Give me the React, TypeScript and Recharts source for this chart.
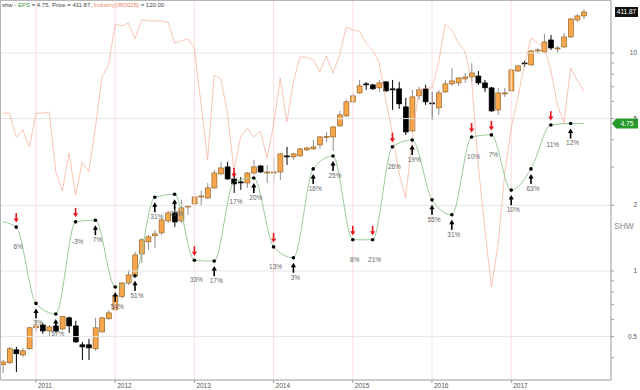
import React from 'react';
import { ComposedChart, Bar, Line, XAxis, YAxis, ReferenceLine } from 'recharts';

// monthly candles, Aug 2010 .. Dec 2017
const firstYear = 2010;
const firstMonth = 8;
const monthCount = 89;
const yearLabels = ['2011', '2012', '2013', '2014', '2015', '2016', '2017'];

const priceOpen = [
  67.7, 68.4, 73.1, 71.2, 73.5, 81.8, 83.0, 80.5, 82.6, 81.3, 86.1, 82.6, 75.0, 75.0, 73.5, 80.1, 85.7, 89.7, 96.0, 102.9,
  106.7, 119.4, 127.0, 131.0, 133.0, 141.4, 147.3, 141.4, 151.8, 154.2, 159.8, 159.0, 167.4, 179.8, 186.4, 175.2, 172.6, 171.7, 180.7, 187.3,
  180.7, 180.7, 181.6, 197.2, 196.2, 197.2, 203.3, 204.4, 208.6, 217.3, 217.3, 229.9, 242.0, 260.0, 272.2, 285.1, 283.6, 279.3, 288.0, 277.9,
  277.9, 253.4, 224.1, 268.1, 277.9, 258.6, 252.1, 273.6, 285.1, 286.5, 292.4, 295.3, 296.8, 286.5, 279.3, 249.5, 270.8, 275.0, 304.5, 317.3,
  314.1, 337.4, 335.7, 356.9, 340.9, 344.4, 362.5, 395.4, 403.6,
];
const priceHigh = [
  69.4, 74.2, 74.2, 73.8, 82.2, 85.2, 83.9, 83.0, 83.9, 87.0, 86.6, 84.8, 76.1, 77.3, 86.1, 86.6, 89.7, 97.5, 103.4, 110.0,
  120.7, 129.6, 131.6, 135.0, 143.6, 148.8, 155.8, 157.4, 153.4, 164.8, 164.8, 171.7, 183.5, 191.2, 191.2, 181.6, 177.0, 181.6, 193.2, 188.3,
  188.3, 196.2, 200.2, 206.5, 200.2, 205.4, 206.5, 214.0, 218.4, 222.9, 229.9, 248.2, 262.6, 272.2, 290.9, 288.0, 285.1, 290.9, 289.4, 290.9,
  288.0, 265.3, 276.4, 280.8, 283.6, 273.6, 276.4, 290.9, 309.3, 295.3, 301.4, 317.3, 304.5, 290.9, 280.8, 279.3, 279.3, 309.3, 314.1, 320.6,
  339.1, 342.6, 368.1, 366.2, 346.1, 370.0, 399.4, 407.7, 417.5,
];
const priceLow = [
  64.9, 68.0, 65.2, 70.5, 73.1, 80.1, 79.3, 78.1, 79.7, 80.9, 79.7, 75.7, 69.4, 69.4, 72.7, 79.9, 85.2, 89.2, 95.0, 101.8,
  106.1, 114.0, 121.9, 123.2, 131.6, 139.9, 137.1, 139.9, 145.8, 153.4, 152.6, 158.2, 166.5, 178.9, 174.4, 163.1, 165.7, 167.4, 178.9, 180.7,
  171.7, 172.6, 174.4, 188.3, 193.2, 196.2, 202.2, 203.3, 204.4, 211.8, 202.2, 228.7, 240.7, 258.6, 270.8, 276.4, 276.4, 273.6, 273.6, 249.5,
  250.8, 219.5, 222.9, 262.6, 256.0, 237.0, 243.2, 272.2, 282.2, 282.2, 286.5, 288.0, 283.6, 273.6, 247.0, 243.2, 266.7, 273.6, 302.9, 310.9,
  312.5, 332.3, 334.0, 339.1, 334.0, 342.6, 360.6, 391.4, 397.4,
];
const priceClose = [
  68.7, 73.5, 71.6, 72.7, 81.8, 82.6, 80.5, 82.2, 80.5, 86.6, 82.6, 76.1, 74.2, 73.8, 81.8, 86.1, 88.3, 96.5, 102.9, 107.2,
  118.8, 128.3, 130.3, 132.3, 142.1, 147.3, 140.6, 151.1, 152.6, 159.8, 160.6, 167.4, 180.7, 185.4, 175.2, 170.8, 171.7, 180.7, 186.4, 181.6,
  181.6, 181.6, 199.2, 196.2, 199.2, 204.4, 205.4, 206.5, 217.3, 217.8, 228.7, 243.2, 260.0, 268.1, 282.2, 283.6, 277.9, 286.5, 275.0, 276.4,
  257.3, 222.9, 266.7, 276.4, 260.0, 257.3, 272.2, 285.1, 289.4, 293.8, 295.3, 301.4, 286.5, 279.3, 248.2, 272.2, 272.2, 306.1, 312.5, 315.7,
  337.4, 339.1, 353.3, 342.6, 342.6, 362.5, 397.4, 403.6, 411.87,
];
const industryLine = [
  111.0, 111.0, 101.0, 104.0, 96.9, 111.0, 111.0, 111.4, 86.5, 78.6, 94.4, 76.9, 90.6, 86.5, 104.8, 126.0, 131.0, 148.0, 147.2, 148.4,
  141.8, 149.7, 149.3, 149.3, 149.3, 148.8, 140.1, 141.0, 141.8, 138.0, 114.8, 91.5, 126.8, 125.2, 111.0, 87.3, 101.0, 104.8, 101.0, 103.5,
  92.3, 106.0, 125.6, 107.3, 123.9, 134.3, 134.3, 133.1, 128.1, 134.7, 127.6, 135.1, 146.8, 145.5, 145.1, 140.1, 137.2, 131.8, 116.4, 102.7,
  86.1, 75.7, 99.8, 120.6, 121.4, 121.4, 131.8, 148.0, 145.5, 140.1, 136.4, 124.7, 89.4, 63.2, 38.7, 56.1, 85.2, 104.8, 117.3, 131.0,
  142.2, 140.1, 138.0, 128.9, 114.3, 106.9, 129.7, 124.7, 120.0,
];

// quarterly EPS points
const epsMonths = [
  '2010-08', '2010-10',
  '2011-01', '2011-04', '2011-07', '2011-10',
  '2012-01', '2012-04', '2012-07', '2012-10',
  '2013-01', '2013-04', '2013-07', '2013-10',
  '2014-01', '2014-04', '2014-07', '2014-10',
  '2015-01', '2015-04', '2015-07', '2015-10',
  '2016-01', '2016-04', '2016-07', '2016-10',
  '2017-01', '2017-04', '2017-07', '2017-10', '2017-12',
];
const epsValues = [
  1.68, 1.59, 0.71, 0.635, 1.68, 1.71, 0.845, 0.95, 2.18, 2.25, 1.12, 1.11, 2.56, 2.67, 1.29, 1.15,
  2.94, 3.37, 1.39, 1.39, 3.71, 3.99, 2.12, 1.81, 4.12, 4.21, 2.35, 2.94, 4.67, 4.75, 4.75,
];
const epsChange = [
  null, '6%', '3%', '57%', '-3%', '7%', '54%', '51%', '31%', '27%', '33%', '17%', '17%', '20%', '13%', '3%',
  '16%', '25%', '8%', '21%', '26%', '19%', '55%', '31%', '10%', '7%', '10%', '63%', '11%', '12%', null,
];
const epsArrow = [
  null, 'down', 'up', 'up', 'down', 'up', 'up', 'up', 'up', 'up', 'down', 'up', 'down', 'up', 'down', 'up',
  'up', 'up', 'down', 'down', 'down', 'up', 'up', 'up', 'down', 'down', 'up', 'up', 'down', 'up', null,
];

const epsTicks = [0.4, 0.5, 0.6, 0.7, 0.8, 0.9, 1, 2, 3, 4, 5, 6, 7, 8, 9, 10];
const epsTickLabels = [0.5, 1, 2, 5, 10];

const months = Array.from({ length: monthCount }, (_, k) => {
  const m = firstMonth - 1 + k;
  return `${firstYear + Math.floor(m / 12)}-${String((m % 12) + 1).padStart(2, '0')}`;
});

const rows = months.map((month, i) => {
  const e = epsMonths.indexOf(month);
  return {
    i,
    month,
    open: priceOpen[i],
    high: priceHigh[i],
    low: priceLow[i],
    close: priceClose[i],
    range: [priceLow[i], priceHigh[i]],
    industry: industryLine[i],
    eps: e >= 0 ? epsValues[e] : null,
    change: e >= 0 ? epsChange[e] : null,
    arrow: e >= 0 ? epsArrow[e] : null,
  };
});

const yearTicks = yearLabels.map((y) => months.indexOf(`${y}-01`));

const FONT = '"Liberation Sans", Arial, sans-serif';

const Candle = (props: any) => {
  const { x, y, width, height, payload } = props;
  if (x == null || !payload) return <g />;
  const { open, close, high, low } = payload;
  const cx = x + width / 2;
  const lh = Math.log(high);
  const ll = Math.log(low);
  const at = (v: number) => y + (height * (lh - Math.log(v))) / (lh - ll || 1);
  const up = close >= open;
  const top = at(Math.max(open, close));
  const bot = at(Math.min(open, close));
  return (
    <g>
      <line x1={cx} x2={cx} y1={y} y2={y + height} stroke={up ? '#8e8e8e' : '#000'} strokeWidth={1} />
      <rect
        x={cx - 2.5}
        y={top}
        width={5}
        height={Math.max(1, bot - top)}
        fill={up ? '#f7a64c' : '#000'}
        stroke={up ? '#8a5818' : '#000'}
        strokeWidth={0.6}
      />
    </g>
  );
};

const EpsMark = (props: any) => {
  const { cx, cy, payload, index } = props;
  if (!payload || !payload.change || cx == null) return <g key={index} />;
  const down = payload.arrow === 'down';
  return (
    <g key={index}>
      {down ? (
        <g fill="#e8151b">
          <rect x={cx - 0.8} y={cy - 14} width={1.6} height={6} />
          <polygon points={`${cx - 2.6},${cy - 8.5} ${cx + 2.6},${cy - 8.5} ${cx},${cy - 4.5}`} />
        </g>
      ) : (
        <g fill="#000">
          <polygon points={`${cx},${cy + 5} ${cx - 2.6},${cy + 9.5} ${cx + 2.6},${cy + 9.5}`} />
          <rect x={cx - 0.8} y={cy + 9} width={1.6} height={6} />
        </g>
      )}
      <circle cx={cx} cy={cy} r={1.8} fill="#000" />
      <text x={cx + 2} y={cy + 22} textAnchor="middle" fontSize={6.5} fill="#666" fontFamily={FONT}>
        {payload.change}
      </text>
    </g>
  );
};

const EpsTick = (props: any) => {
  const { x, y, payload } = props;
  if (!epsTickLabels.includes(payload.value)) return <g />;
  return (
    <text x={x + 21} y={y + 2} textAnchor="end" fontSize={6.5} fill="#555" fontFamily={FONT}>
      {payload.value}
    </text>
  );
};

const YearTick = (props: any) => {
  const { x, y, payload } = props;
  const k = yearTicks.indexOf(payload.value);
  return (
    <text x={x + 2} y={y + 3} textAnchor="start" fontSize={6.5} fill="#555" fontFamily={FONT}>
      {yearLabels[k]}
    </text>
  );
};

const EpsTag = (props: any) => {
  const { viewBox } = props;
  if (!viewBox) return null;
  const x = viewBox.x + viewBox.width + 1;
  const y = viewBox.y;
  return (
    <g>
      <polygon points={`${x},${y} ${x + 4},${y - 5} ${x + 26},${y - 5} ${x + 26},${y + 5} ${x + 4},${y + 5}`} fill="#279a2a" />
      <text x={x + 15} y={y + 2.3} textAnchor="middle" fontSize={6.5} fill="#fff" fontFamily={FONT}>4.75</text>
    </g>
  );
};

const PriceTag = (props: any) => {
  const { viewBox } = props;
  if (!viewBox) return null;
  const x = viewBox.x + viewBox.width + 4;
  const y = viewBox.y;
  return (
    <g>
      <rect x={x} y={y - 5} width={23} height={10} fill="#111" />
      <text x={x + 11.5} y={y + 2.3} textAnchor="middle" fontSize={6.5} fill="#fff" fontFamily={FONT}>411.87</text>
    </g>
  );
};

export default function App() {
  return (
    <div style={{ position: 'fixed', left: 0, top: 0, width: 640, height: 390, background: '#fff', fontFamily: FONT }}>
      <ComposedChart width={640} height={390} data={rows} margin={{ top: 0, right: 0, left: 1, bottom: 0 }}>
        <XAxis
          dataKey="i"
          type="number"
          domain={[-0.303, 92.12]}
          allowDataOverflow
          ticks={yearTicks}
          tick={<YearTick />}
          tickSize={3}
          height={10}
          stroke="#9a9a9a"
          interval={0}
        />
        <YAxis
          yAxisId="eps"
          orientation="right"
          scale="log"
          domain={[0.3162, 17.5]}
          allowDataOverflow
          ticks={epsTicks}
          tick={<EpsTick />}
          tickSize={3}
          width={29}
          stroke="#9a9a9a"
          interval={0}
        />
        <YAxis yAxisId="price" hide scale="log" domain={[62.63, 437.9]} allowDataOverflow />
        <YAxis yAxisId="ind" hide domain={[0, 158]} allowDataOverflow />

        {epsTickLabels.map((v) => (
          <ReferenceLine key={`h${v}`} yAxisId="eps" y={v} stroke="#e6e6e6" strokeWidth={1} />
        ))}
        {yearTicks.map((t) => (
          <ReferenceLine key={`v${t}`} yAxisId="eps" x={t} stroke="#fbdfe2" strokeWidth={1} />
        ))}

        <Line
          yAxisId="ind"
          dataKey="industry"
          type="linear"
          stroke="#f4a88f"
          strokeOpacity={0.75}
          strokeWidth={0.9}
          dot={false}
          isAnimationActive={false}
        />
        <Line
          yAxisId="eps"
          dataKey="eps"
          type="monotone"
          stroke="#9acb9a"
          strokeWidth={1}
          connectNulls
          dot={<EpsMark />}
          activeDot={false}
          isAnimationActive={false}
        />
        <Bar yAxisId="price" dataKey="range" barSize={5} shape={<Candle />} isAnimationActive={false} />

        <ReferenceLine yAxisId="eps" y={4.75} strokeOpacity={0} label={<EpsTag />} />
        <ReferenceLine yAxisId="price" y={411.87} strokeOpacity={0} label={<PriceTag />} />
      </ComposedChart>

      <div style={{ position: 'absolute', left: 0, top: 0, width: 611, height: 380, borderTop: '1px solid #b5b5b5', borderLeft: '1px solid #b5b5b5', boxSizing: 'border-box', pointerEvents: 'none' }} />
      <div style={{ position: 'absolute', left: 2, top: 1, fontSize: 6, color: '#444', whiteSpace: 'nowrap', lineHeight: '8px' }}>
        shw - <span style={{ color: '#3a9a3a' }}>EPS</span> = 4.75, Price = 411.87,{' '}
        <span style={{ color: '#f08a6a' }}>Industry(IBD028)</span> = 120.00
      </div>
      <div style={{ position: 'absolute', left: 614, top: 221, fontSize: 8.5, color: '#8a8a8a' }}>SHW</div>
    </div>
  );
}
